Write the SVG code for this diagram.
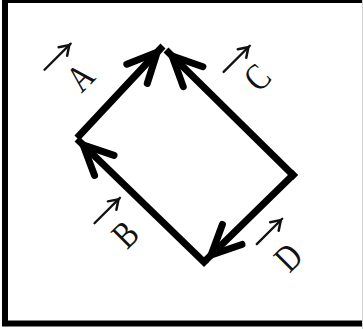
<svg xmlns="http://www.w3.org/2000/svg" width="363" height="329" viewBox="0 0 363 329">
<style>
.shaft{fill:none;stroke:#000;stroke-width:7;stroke-linecap:butt}
.lbl{font-family:"Liberation Serif","Times New Roman",serif;font-size:30px;fill:#111;text-anchor:middle}
.vec{fill:none;stroke:#111;stroke-width:2.3;stroke-linecap:round}
</style>
<defs>
<marker id="ah" markerUnits="userSpaceOnUse" orient="auto" overflow="visible" refX="0" refY="0" markerWidth="1" markerHeight="1">
<path d="M-38,-14 L-8.5,0 L-38,14" fill="none" stroke="#000" stroke-width="7" stroke-linecap="round" stroke-linejoin="miter" stroke-miterlimit="10"/>
</marker>
<marker id="sh" markerUnits="userSpaceOnUse" orient="auto" overflow="visible" refX="0" refY="0" markerWidth="1" markerHeight="1">
<path d="M-11,-6 L-2,0 L-11,6" fill="none" stroke="#111" stroke-width="2.5" stroke-linecap="round" stroke-linejoin="miter"/>
</marker>
</defs>
<rect width="363" height="329" fill="#fff"/>
<g id="frame">
<rect x="5" y="0" width="400" height="323.5" fill="none" stroke="#000" stroke-width="6"/>
<line x1="362.5" y1="0" x2="362.5" y2="329" stroke="#d0d0d0" stroke-width="1"/>
</g>
<g id="connectors">
<path id="edge-A" class="shaft" d="M77,138 L163,46" marker-end="url(#ah)"/>
<path id="edge-C" class="shaft" d="M295.5,177.5 L166,50" marker-end="url(#ah)"/>
<path id="edge-B" class="shaft" d="M206.5,264.4 L77,139" marker-end="url(#ah)"/>
<path id="edge-D" class="shaft" d="M295.5,172.6 L205,261" marker-end="url(#ah)"/>
</g>
<g id="label-A" transform="translate(82,79) rotate(-45)">
<line class="vec" x1="-20" y1="-33" x2="17" y2="-33" marker-end="url(#sh)"/>
<text class="lbl" x="0" y="8" transform="scale(1,1.25)">A</text>
</g>
<g id="label-C" transform="translate(259,79) rotate(-45)">
<line class="vec" x1="-20" y1="-30" x2="17" y2="-30" marker-end="url(#sh)"/>
<text class="lbl" x="0" y="8" transform="scale(1,1.25)">C</text>
</g>
<g id="label-B" transform="translate(127,236) rotate(-45)">
<line class="vec" x1="-14" y1="-32" x2="22" y2="-32" marker-end="url(#sh)"/>
<text class="lbl" x="0" y="8" transform="scale(1,1.25)">B</text>
</g>
<g id="label-D" transform="translate(290,259) rotate(-45)">
<line class="vec" x1="-13" y1="-34" x2="23" y2="-34" marker-end="url(#sh)"/>
<text class="lbl" x="0" y="8" transform="scale(1,1.25)">D</text>
</g>
</svg>
